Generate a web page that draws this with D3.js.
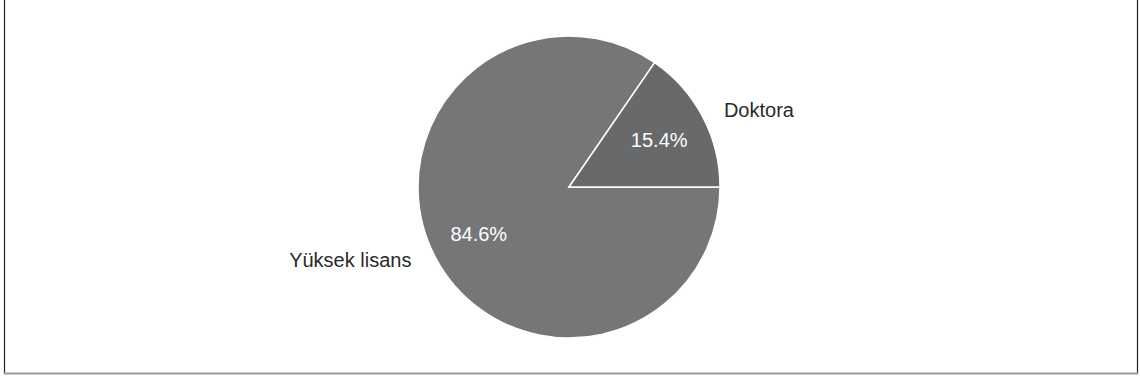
<!DOCTYPE html>
<html>
<head>
<meta charset="utf-8">
<script src="https://cdn.jsdelivr.net/npm/d3@7"></script>
<style>
  html, body { margin: 0; padding: 0; background: #fff; }
  svg { display: block; font-family: "Liberation Sans", Arial, sans-serif; }
</style>
</head>
<body>
<div id="chart"></div>
<script>
const categories = ['Yüksek lisans', 'Doktora'];
const values = [84.6, 15.4];
const colors = ['#747677', '#67696a'];

const width = 1140;
const height = 381;
const cx = 569;
const cy = 187;
const radius = 151;

const svg = d3.select('#chart')
  .append('svg')
  .attr('width', width)
  .attr('height', height);

// frame: left/right dark, bottom gray
svg.append('line')
  .attr('x1', 4.5).attr('y1', 0).attr('x2', 4.5).attr('y2', 374)
  .attr('stroke', '#222').attr('stroke-width', 1.2);
svg.append('line')
  .attr('x1', 1137.5).attr('y1', 0).attr('x2', 1137.5).attr('y2', 374)
  .attr('stroke', '#222').attr('stroke-width', 1.2);
svg.append('line')
  .attr('x1', 4).attr('y1', 373.5).attr('x2', 1138).attr('y2', 373.5)
  .attr('stroke', '#999').attr('stroke-width', 2);

const data = categories.map((c, i) => ({ name: c, value: values[i], color: colors[i] }));

// start at 3 o'clock, clockwise
const pie = d3.pie()
  .value(d => d.value)
  .sort(null)
  .startAngle(Math.PI / 2)
  .endAngle(Math.PI / 2 + 2 * Math.PI);

const arcs = pie(data);

const arc = d3.arc().innerRadius(0).outerRadius(radius);
const pctArc = d3.arc().innerRadius(radius * 0.675).outerRadius(radius * 0.675);

const g = svg.append('g').attr('transform', `translate(${cx},${cy})`);

g.selectAll('path.slice')
  .data(arcs)
  .enter()
  .append('path')
  .attr('class', 'slice')
  .attr('d', arc)
  .attr('fill', d => d.data.color)
  .attr('stroke', '#fff')
  .attr('stroke-width', 1.5);

const total = d3.sum(values);

g.selectAll('text.pct')
  .data(arcs)
  .enter()
  .append('text')
  .attr('class', 'pct')
  .attr('transform', d => `translate(${pctArc.centroid(d)})`)
  .attr('text-anchor', 'middle')
  .attr('dy', '0.35em')
  .attr('fill', '#fff')
  .style('font-size', '20px')
  .text(d => (d.data.value / total * 100).toFixed(1) + '%');

// outside labels
g.selectAll('text.name')
  .data(arcs)
  .enter()
  .append('text')
  .attr('class', 'name')
  .each(function (d) {
    const mid = (d.startAngle + d.endAngle) / 2;
    const sx = Math.sin(mid), sy = -Math.cos(mid);
    const right = sx > 0;
    d3.select(this)
      .attr('x', sx * (radius + (right ? 24 : 27)))
      .attr('y', sy * radius + (right ? 0 : 10))
      .attr('text-anchor', right ? 'start' : 'end');
  })
  .attr('fill', '#2a2a2a')
  .style('font-size', '20px')
  .text(d => d.data.name);
</script>
</body>
</html>
